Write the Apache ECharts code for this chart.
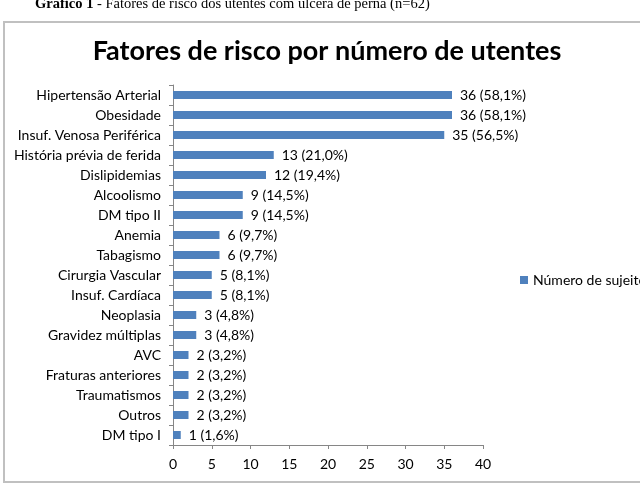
<!DOCTYPE html>
<html>
<head>
<meta charset="utf-8">
<script src="https://cdn.jsdelivr.net/npm/echarts@6/dist/echarts.min.js"></script>
<style>
  html, body { margin: 0; padding: 0; background: #fff; }
  #chart { width: 640px; height: 486px; }
</style>
</head>
<body>
<div id="chart"></div>
<script>
// factors, top to bottom
var categories = [
  "Hipertensão Arterial", "Obesidade", "Insuf. Venosa Periférica",
  "História prévia de ferida", "Dislipidemias", "Alcoolismo", "DM tipo II",
  "Anemia", "Tabagismo", "Cirurgia Vascular", "Insuf. Cardíaca", "Neoplasia",
  "Gravidez múltiplas", "AVC", "Fraturas anteriores", "Traumatismos",
  "Outros", "DM tipo I"
];
var counts = [36, 36, 35, 13, 12, 9, 9, 6, 6, 5, 5, 3, 3, 2, 2, 2, 2, 1];
var totalPatients = 62;
var xTicks = [0, 5, 10, 15, 20, 25, 30, 35, 40];
var seriesName = "Número de sujeitos";

var font = "Lato, 'Open Sans', sans-serif";

function pct(v) {
  return (v / totalPatients * 100).toFixed(1).replace(".", ",");
}

var chart = echarts.init(document.getElementById("chart"));
chart.setOption({
  animation: false,
  textStyle: { fontFamily: font },
  title: {
    text: "Fatores de risco por número de utentes",
    left: 322, top: 33, textAlign: "center",
    textStyle: { fontSize: 27, fontWeight: "bold", color: "#000", fontFamily: font }
  },
  graphic: [
    {
      type: "rect", silent: true,
      shape: { x: 4, y: 22, width: 700, height: 460 },
      style: { fill: null, stroke: "#c0c0c0", lineWidth: 2 }
    },
    {
      type: "text", left: 35, top: -3,
      style: {
        text: "{b|Gráfico 1} - Fatores de risco dos utentes com úlcera de perna (n=62)",
        rich: {
          b: { fontWeight: "bold", fontSize: 14.5, fontFamily: "'Liberation Serif', serif", fill: "#000" }
        },
        fontSize: 14.5, fontFamily: "'Liberation Serif', serif", fill: "#000"
      }
    }
  ],
  legend: {
    left: 515, top: 268,
    itemWidth: 8, itemHeight: 8, itemGap: 5,
    textStyle: { fontSize: 14, color: "#000", fontFamily: font },
    data: [{ name: seriesName, icon: "rect" }]
  },
  grid: { left: 173, right: 157, top: 85, bottom: 41, containLabel: false },
  xAxis: {
    type: "value", min: xTicks[0], max: xTicks[xTicks.length - 1], interval: 5,
    axisLine: { show: true, lineStyle: { color: "#868686", width: 1 } },
    axisTick: { show: true, length: 4, lineStyle: { color: "#868686" } },
    axisLabel: { margin: 12, fontSize: 14, color: "#000", fontFamily: font },
    splitLine: { show: false }
  },
  yAxis: {
    type: "category", inverse: true, data: categories,
    axisLine: { show: true, lineStyle: { color: "#868686", width: 1 } },
    axisTick: { show: true, length: 4, alignWithLabel: false, lineStyle: { color: "#868686" } },
    axisLabel: { margin: 12, fontSize: 14, color: "#000", fontFamily: font }
  },
  series: [{
    name: seriesName,
    type: "bar",
    data: counts,
    barWidth: 8,
    itemStyle: { color: "#4f81bd" },
    label: {
      show: true, position: "right", distance: 8,
      fontSize: 14, color: "#000", fontFamily: font,
      formatter: function (p) { return p.value + " (" + pct(p.value) + "%)"; }
    }
  }]
});
</script>
</body>
</html>
